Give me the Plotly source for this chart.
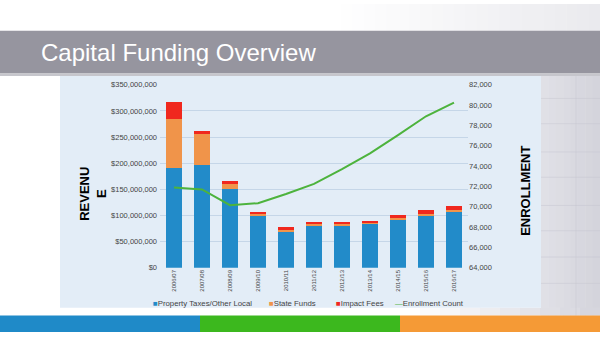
import plotly.graph_objects as go

# Fiscal years on the category axis
years = ["2006/07", "2007/08", "2008/09", "2009/10", "2010/11", "2011/12",
         "2012/13", "2013/14", "2014/15", "2015/16", "2016/17"]

# Revenue by source (dollars)
property_local = [190e6, 196e6, 151e6, 100e6, 70e6, 82e6, 82e6, 85e6, 93e6, 100e6, 108e6]
state_funds = [95e6, 60e6, 10e6, 2e6, 3e6, 1e6, 1e6, 1e6, 2e6, 2e6, 3e6]
impact_fees = [33e6, 5e6, 5e6, 5e6, 5e6, 5e6, 5e6, 4e6, 5e6, 8e6, 7e6]

# Student enrollment (right axis)
enrollment = [71900, 71700, 70150, 70350, 71250, 72250, 73700, 75250, 77050, 78900, 80250]

series_names = ["Property Taxes/Other Local", "State Funds", "Impact Fees", "Enrollment Count"]
series_colors = ["#228bc9", "#f0944a", "#f0281e", "#4db33d"]

W, H = 600, 337
FONT = "Liberation Sans, Arial, sans-serif"


def px_x(v):
    return v / W


def px_y(v):
    return 1 - v / H


shapes = []


def rect(x0, y0, x1, y1, color, layer="below"):
    shapes.append(dict(type="rect", xref="paper", yref="paper",
                       x0=px_x(x0), x1=px_x(x1), y0=px_y(y1), y1=px_y(y0),
                       fillcolor=color, line=dict(width=0), layer=layer))


def lerp(c0, c1, t):
    return "rgb(%d,%d,%d)" % tuple(round(a + (b - a) * t) for a, b in zip(c0, c1))


# Slide background: white fading to light grey on the right
rect(0, 0, 600, 337, "#ffffff")
n = 24
for i in range(n):
    x0 = 330 + i * (270 / n)
    rect(x0, 0, x0 + 270 / n + 0.5, 28, lerp((255, 255, 255), (234, 234, 238), i / (n - 1)))
for i in range(8):
    x0 = 541 + i * (59 / 8)
    rect(x0, 72, x0 + 59 / 8 + 0.5, 320, lerp((224, 224, 230), (212, 212, 220), i / 7))
for i in range(10):
    x0 = 400 + i * 20
    rect(x0, 312, x0 + 20.5, 320, lerp((255, 255, 255), (214, 214, 222), i / 9))
# faint grid on the grey margin
for yy in [97, 123, 152, 178, 207, 233, 260, 287]:
    shapes.append(dict(type="line", xref="paper", yref="paper", x0=px_x(541), x1=1,
                       y0=px_y(yy), y1=px_y(yy), line=dict(color="rgba(196,196,206,0.45)", width=1),
                       layer="below"))
shapes.append(dict(type="line", xref="paper", yref="paper", x0=px_x(576), x1=px_x(576),
                   y0=px_y(72), y1=px_y(320), line=dict(color="rgba(196,196,206,0.45)", width=1),
                   layer="below"))

# Title band
rect(0, 27.5, 600, 71.5, "#96959f")
rect(0, 71.5, 600, 74, "#c6c6cc")
# Chart panel
rect(60, 74, 541, 312, "#e3edf7")
# Bottom colour strip
rect(0, 320, 200, 337, "#1f8ac8")
rect(200, 320, 400, 337, "#3cb81e")
rect(400, 320, 600, 337, "#f59a36")

fig = go.Figure()
for vals, name, color in zip([property_local, state_funds, impact_fees], series_names, series_colors):
    fig.add_trace(go.Bar(x=years, y=vals, name=name, showlegend=False,
                         marker=dict(color=color, line=dict(width=0))))
fig.add_trace(go.Scatter(x=years, y=enrollment, name=series_names[3], yaxis="y2", showlegend=False,
                         mode="lines", line=dict(color=series_colors[3], width=2)))

tick_font = dict(family=FONT, size=7.5, color="#444444")

annotations = [
    dict(text="Capital Funding Overview", xref="paper", yref="paper",
         x=px_x(39), y=px_y(50), xanchor="left", yanchor="middle", showarrow=False,
         font=dict(family=FONT, size=24, color="#ffffff")),
    dict(text="<b>REVENU<br>E</b>", xref="paper", yref="paper",
         x=px_x(93), y=px_y(195), xanchor="center", yanchor="middle", showarrow=False,
         textangle=-90, align="center",
         font=dict(family=FONT, size=13, color="#000000")),
    dict(text="<b>ENROLLMENT</b>", xref="paper", yref="paper",
         x=px_x(526), y=px_y(192), xanchor="center", yanchor="middle", showarrow=False,
         textangle=-90,
         font=dict(family=FONT, size=13, color="#000000")),
]

# Compact key under the chart: coloured glyph followed by the series name
key_x = [151, 267, 334, 393]
key_glyph = ["■", "■", "■", "—"]
for x, glyph, name, color in zip(key_x, key_glyph, series_names, series_colors):
    annotations.append(dict(
        text="<span style='color:%s'>%s</span>%s" % (color, glyph, name),
        xref="paper", yref="paper", x=px_x(x), y=px_y(307.5), xanchor="left", yanchor="middle",
        showarrow=False, font=dict(family=FONT, size=7.8, color="#444444")))

fig.update_layout(
    width=W, height=H,
    margin=dict(l=0, r=0, t=0, b=0),
    paper_bgcolor="#ffffff",
    plot_bgcolor="rgba(0,0,0,0)",
    barmode="stack",
    bargap=0.43,
    shapes=shapes,
    showlegend=False,
    font=dict(family=FONT),
    xaxis=dict(domain=[160 / W, 468 / W], tickangle=-90,
               tickfont=dict(family=FONT, size=6, color="#444444"),
               showgrid=False, zeroline=False, showline=False, ticks=""),
    yaxis=dict(domain=[66 / H, 254 / H], range=[0, 350e6], dtick=50e6,
               tickformat="$,.0f", tickfont=tick_font, ticklabelstandoff=2,
               gridcolor="#c5d6e8", gridwidth=1, zeroline=False, showline=False, ticks=""),
    yaxis2=dict(overlaying="y", side="right", range=[64000, 82000], dtick=2000,
                tickformat=",d", tickfont=tick_font, showgrid=False, zeroline=False,
                showline=False, ticks=""),
    annotations=annotations,
)

fig.write_html("out.html")
